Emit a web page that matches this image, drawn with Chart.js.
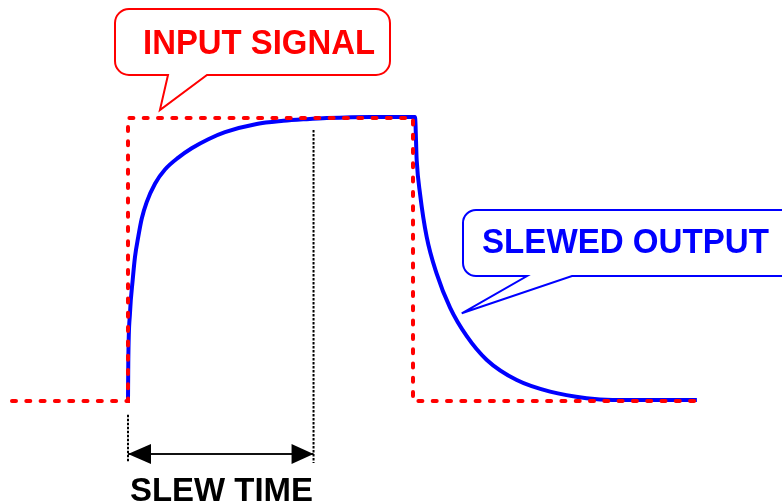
<!DOCTYPE html>
<html>
<head>
<meta charset="utf-8">
<script src="https://cdn.jsdelivr.net/npm/chart.js@4.4.1/dist/chart.umd.min.js"></script>
<style>
  html, body { margin: 0; padding: 0; background: #fff; }
  #wrap { width: 782px; height: 503px; }
</style>
</head>
<body>
<div id="wrap"><canvas id="slew" width="782" height="503"></canvas></div>
<script>
// ── Data (time units, normalised volts) ───────────────────

// square pulse on the input
const inputT = [-4.07, 0, 0, 10, 10, 20];
const inputV = [0, 0, 1, 1, 0, 0];

// output
const outputT = [0, 0.01, 0.07, 0.165, 0.246, 0.361, 0.481, 0.656, 0.947, 1.298, 1.765, 2.235, 2.818, 3.404,
                 4.516, 5.449, 6.27, 6.97, 8.5, 10.07,
                 10.13, 10.25, 10.48, 10.83, 11.3, 11.88, 12.59, 13.64, 14.81, 16.09, 17.0, 19.96];
const outputV = [0, 0.134, 0.311, 0.428, 0.51, 0.581, 0.644, 0.703, 0.768, 0.818, 0.86, 0.893, 0.925, 0.95,
                 0.979, 0.99, 0.996, 1.0, 1.004, 1.004,
                 0.85, 0.73, 0.58, 0.45, 0.33, 0.23, 0.145, 0.074, 0.033, 0.01, 0.004, 0.004];

// slew time markers
const slewT       = [0, 6.51];
const markerLeft  = [-0.049, -0.216];
const markerRight = [0.958, -0.219];
const arrowV      = -0.187;

const labels = { input: 'INPUT SIGNAL', output: 'SLEWED OUTPUT', slew: 'SLEW TIME' };

// ── Helpers ────────────────────────────────────────────────

const pts = (xs, ys) => xs.map((x, i) => ({ x, y: ys[i] }));

function callout(ctx, box, base, tip, r, color, text, tx, ty, tw) {
  ctx.save();
  ctx.beginPath();
  ctx.moveTo(box.l + r, box.t);
  ctx.lineTo(box.r - r, box.t);
  ctx.arcTo(box.r, box.t, box.r, box.t + r, r);
  ctx.lineTo(box.r, box.b - r);
  ctx.arcTo(box.r, box.b, box.r - r, box.b, r);
  ctx.lineTo(base[1], box.b);
  ctx.lineTo(tip.x, tip.y);
  ctx.lineTo(base[0], box.b);
  ctx.lineTo(box.l + r, box.b);
  ctx.arcTo(box.l, box.b, box.l, box.b - r, r);
  ctx.lineTo(box.l, box.t + r);
  ctx.arcTo(box.l, box.t, box.l + r, box.t, r);
  ctx.closePath();
  ctx.fillStyle = '#fff';
  ctx.fill();
  ctx.lineWidth = 2;
  ctx.strokeStyle = color;
  ctx.lineJoin = 'miter';
  ctx.stroke();
  ctx.fillStyle = color;
  ctx.font = "bold 35px 'Liberation Sans', Arial, sans-serif";
  ctx.textBaseline = 'alphabetic';
  ctx.fillText(text, tx, ty, tw);
  ctx.restore();
}

function arrowHead(ctx, x, y, dir, len, half) {
  ctx.beginPath();
  ctx.moveTo(x, y);
  ctx.lineTo(x - dir * len, y - half);
  ctx.lineTo(x - dir * len, y + half);
  ctx.closePath();
  ctx.fill();
}

// ── Annotation plugin ─────────────────────────────────────

const annotations = {
  id: 'annotations',
  afterDatasetsDraw(chart) {
    const { ctx, scales: { x, y } } = chart;

    // arrow heads on the slew time shaft
    const ay = y.getPixelForValue(arrowV);
    ctx.save();
    ctx.fillStyle = '#000';
    arrowHead(ctx, x.getPixelForValue(slewT[0]), ay, -1, 23, 10);
    arrowHead(ctx, x.getPixelForValue(slewT[1]), ay, 1, 22, 10);
    ctx.font = "bold 34px 'Liberation Sans', Arial, sans-serif";
    ctx.fillText(labels.slew, 130, 501, 183);
    ctx.restore();

    callout(ctx, { l: 115, t: 9, r: 390, b: 75 }, [168, 207],
      { x: x.getPixelForValue(1.12), y: y.getPixelForValue(1.028) },
      14, '#ff0000', labels.input, 143, 54, 232);

    callout(ctx, { l: 463, t: 210, r: 800, b: 276 }, [527, 572],
      { x: x.getPixelForValue(11.71), y: y.getPixelForValue(0.31) },
      13, '#0000ff', labels.output, 482, 253, 287);
  },
};

// ── Chart ──────────────────────────────────────────────────

const marker = {
  showLine:    true,
  borderColor: '#000',
  borderWidth: 2,
  borderDash:  [2.5, 1.5],
  pointRadius: 0,
  order:       2,
};

new Chart(document.getElementById('slew'), {
  type: 'scatter',
  data: {
    datasets: [
      {
        label:          'Input',
        data:           pts(inputT, inputV),
        showLine:       true,
        borderColor:    '#ff0000',
        borderWidth:    4,
        borderDash:     [4, 10.3],
        borderCapStyle: 'round',
        pointRadius:    0,
        tension:        0,
        order:          0,
      },
      {
        label:                  'Output',
        data:                   pts(outputT, outputV),
        showLine:               true,
        borderColor:            '#0000ff',
        borderWidth:            4,
        pointRadius:            0,
        cubicInterpolationMode: 'monotone',
        order:                  1,
      },
      { ...marker, label: 'Start', data: pts([slewT[0], slewT[0]], markerLeft) },
      { ...marker, label: 'End',   data: pts([slewT[1], slewT[1]], markerRight) },
      {
        label:       'Slew',
        data:        pts(slewT, [arrowV, arrowV]),
        showLine:    true,
        borderColor: '#111',
        borderWidth: 2,
        pointRadius: 0,
        order:       2,
      },
    ],
  },
  options: {
    responsive: false,
    animation: false,
    devicePixelRatio: 1,
    layout: { padding: 0 },
    plugins: { legend: { display: false }, tooltip: { enabled: false } },
    scales: {
      x: { type: 'linear', display: false, min: -4.491, max: 22.947 },
      y: { type: 'linear', display: false, min: -0.3604, max: 1.417 },
    },
  },
  plugins: [annotations],
});
</script>
</body>
</html>
